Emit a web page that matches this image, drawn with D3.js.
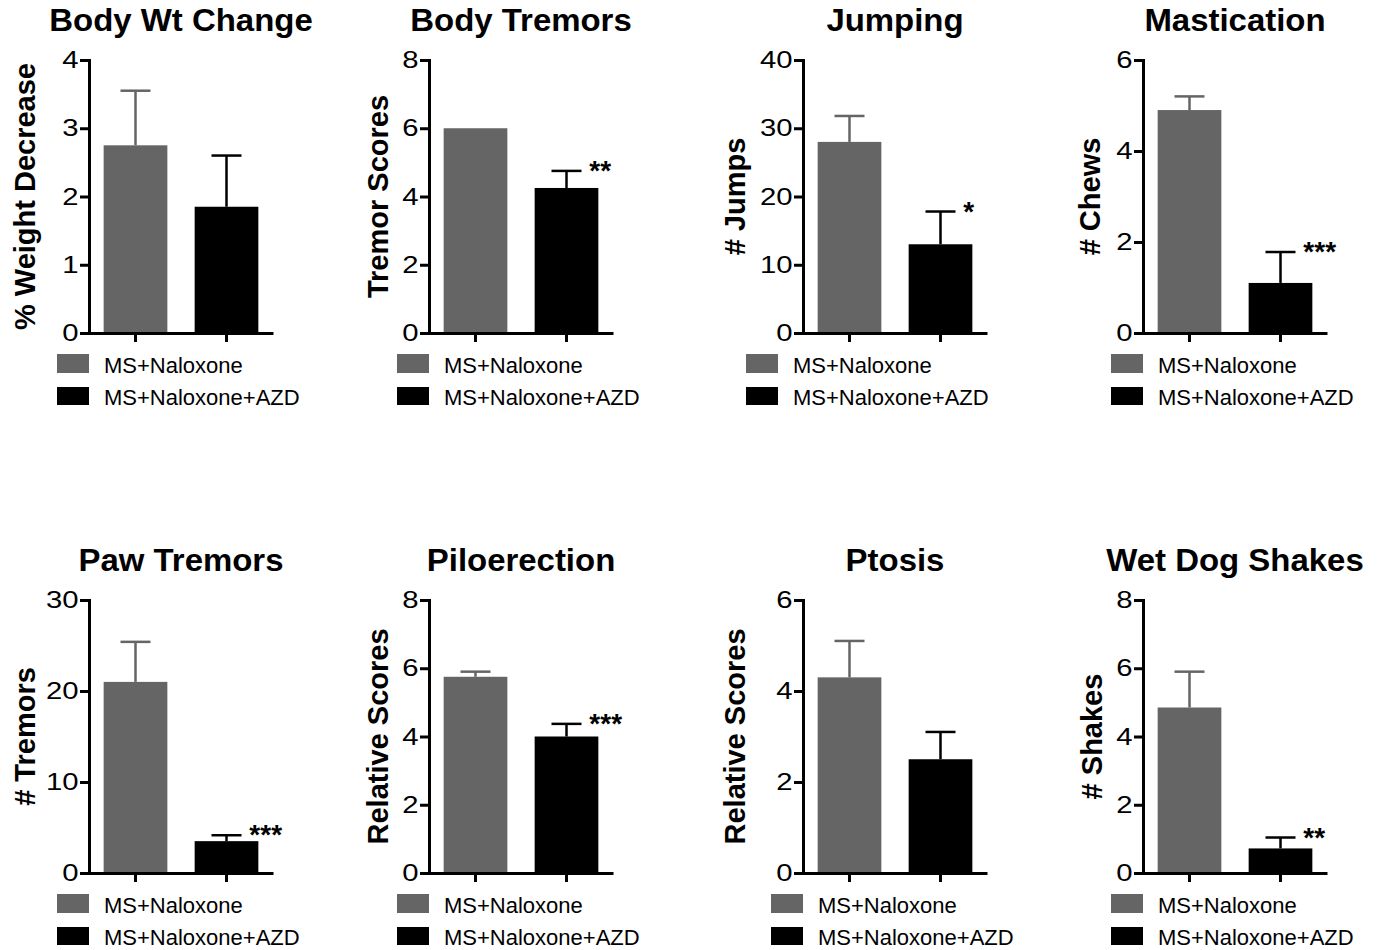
<!DOCTYPE html>
<html>
<head>
<meta charset="utf-8">
<script src="https://cdn.jsdelivr.net/npm/d3@7"></script>
<style>
  body { margin: 0; background: #fff; }
  svg { display: block; font-family: "Liberation Sans", Arial, sans-serif; }
</style>
</head>
<body>
<div id="chart"></div>
<script>
// values
var titles = ['Body Wt Change', 'Body Tremors', 'Jumping', 'Mastication',
  'Paw Tremors', 'Piloerection', 'Ptosis', 'Wet Dog Shakes']
var yLabels = ['% Weight Decrease', 'Tremor Scores', '# Jumps', '# Chews',
  '# Tremors', 'Relative Scores', 'Relative Scores', '# Shakes']
var yMax = [4, 8, 40, 6, 30, 8, 6, 8]
var yStep = [1, 2, 10, 2, 10, 2, 2, 2]
var groups = ['MS+Naloxone', 'MS+Naloxone+AZD']
var naloxoneMean = [2.75, 6.0, 28, 4.9, 21, 5.75, 4.3, 4.85]
var naloxoneSem = [0.8, 0, 3.8, 0.3, 4.4, 0.15, 0.8, 1.05]
var azdMean = [1.85, 4.25, 13, 1.1, 3.5, 4.0, 2.5, 0.72]
var azdSem = [0.75, 0.5, 4.8, 0.68, 0.65, 0.37, 0.6, 0.32]
var significance = ['', '**', '*', '***', '***', '***', '', '**']

// layout
var colX = [89, 429, 803, 1143]
var rowY = [60, 600]
var plotH = 273
var plotW = 184
var labelOff = [64, 51, 68, 53, 64, 51, 68, 51]
var legendShift = [0, 0, -25, 0, 0, 0, 0, 0]
var colors = ['#656565', '#000000']

var svg = d3.select('#chart').append('svg')
  .attr('width', 1379)
  .attr('height', 950)

svg.append('rect').attr('width', 1379).attr('height', 950).attr('fill', '#fff')

var x = d3.scaleBand()
  .domain(groups)
  .range([0, plotW])
  .paddingInner(0.3)
  .paddingOuter(0.161)

function drawPanel (i) {
  var ax = colX[i % 4]
  var py = rowY[Math.floor(i / 4)]
  var g = svg.append('g').attr('transform', 'translate(' + ax + ',' + py + ')')

  var y = d3.scaleLinear().domain([0, yMax[i]]).range([plotH, 0])
  var means = [naloxoneMean[i], azdMean[i]]
  var sems = [naloxoneSem[i], azdSem[i]]

  // title
  g.append('text')
    .attr('transform', 'translate(' + plotW / 2 + ',-29) scale(1.08,1)')
    .attr('text-anchor', 'middle')
    .style('font-size', '30.5px')
    .style('font-weight', 'bold')
    .text(titles[i])

  // y label
  g.append('text')
    .attr('transform', 'translate(' + (-labelOff[i]) + ',' + plotH / 2 + ') rotate(-90)')
    .attr('text-anchor', 'middle')
    .attr('dy', '0.36em')
    .style('font-size', '29px')
    .style('font-weight', 'bold')
    .text(yLabels[i])

  // bars
  g.selectAll('rect.bar')
    .data(groups)
    .enter().append('rect')
    .attr('class', 'bar')
    .attr('x', function (d) { return x(d) })
    .attr('width', x.bandwidth())
    .attr('y', function (d, j) { return y(means[j]) })
    .attr('height', function (d, j) { return plotH - y(means[j]) })
    .attr('fill', function (d, j) { return colors[j] })

  // error bars (upper only)
  groups.forEach(function (d, j) {
    if (!sems[j]) return
    var cx = x(d) + x.bandwidth() / 2
    var yt = y(means[j] + sems[j])
    g.append('line')
      .attr('x1', cx).attr('x2', cx)
      .attr('y1', y(means[j])).attr('y2', yt)
      .attr('stroke', colors[j]).attr('stroke-width', 2.5)
    g.append('line')
      .attr('x1', cx - 15).attr('x2', cx + 15)
      .attr('y1', yt).attr('y2', yt)
      .attr('stroke', colors[j]).attr('stroke-width', 2.5)
  })

  // significance stars
  if (significance[i]) {
    var yt2 = y(azdMean[i] + azdSem[i])
    g.append('text')
      .attr('x', x(groups[1]) + x.bandwidth() - 9)
      .attr('y', yt2 + 9)
      .style('font-size', '28px')
      .style('font-weight', 'bold')
      .text(significance[i])
  }

  // y axis
  var ticks = d3.range(0, yMax[i] + yStep[i] / 2, yStep[i])
  var yAxis = g.append('g')
    .call(d3.axisLeft(y).tickValues(ticks).tickSize(9).tickSizeOuter(0).tickFormat(d3.format('d')))
  yAxis.select('.domain').attr('stroke-width', 3).attr('stroke-linecap', 'square')
  yAxis.selectAll('.tick line').attr('stroke-width', 3)
  yAxis.selectAll('.tick text')
    .attr('x', -8.5)
    .attr('transform', 'scale(1.22,1)')
    .style('font-size', '24px')
    .style('font-family', '"Liberation Sans", Arial, sans-serif')
    .attr('fill', '#000')

  // x axis
  var xAxis = g.append('g')
    .attr('transform', 'translate(0,' + plotH + ')')
    .call(d3.axisBottom(x).tickSize(9).tickSizeOuter(0).tickFormat(''))
  xAxis.select('.domain').attr('stroke-width', 3)
  xAxis.selectAll('.tick line').attr('stroke-width', 3)

  // legend
  var lg = g.append('g').attr('transform', 'translate(' + legendShift[i] + ',' + plotH + ')')
  groups.forEach(function (d, j) {
    lg.append('rect')
      .attr('x', -32).attr('y', j === 0 ? 21 : 54)
      .attr('width', 32).attr('height', j === 0 ? 19 : 18)
      .attr('fill', colors[j])
    lg.append('text')
      .attr('x', 15).attr('y', j === 0 ? 40 : 72)
      .style('font-size', '22px')
      .text(d)
  })
}

for (var k = 0; k < titles.length; k++) drawPanel(k)
</script>
</body>
</html>
